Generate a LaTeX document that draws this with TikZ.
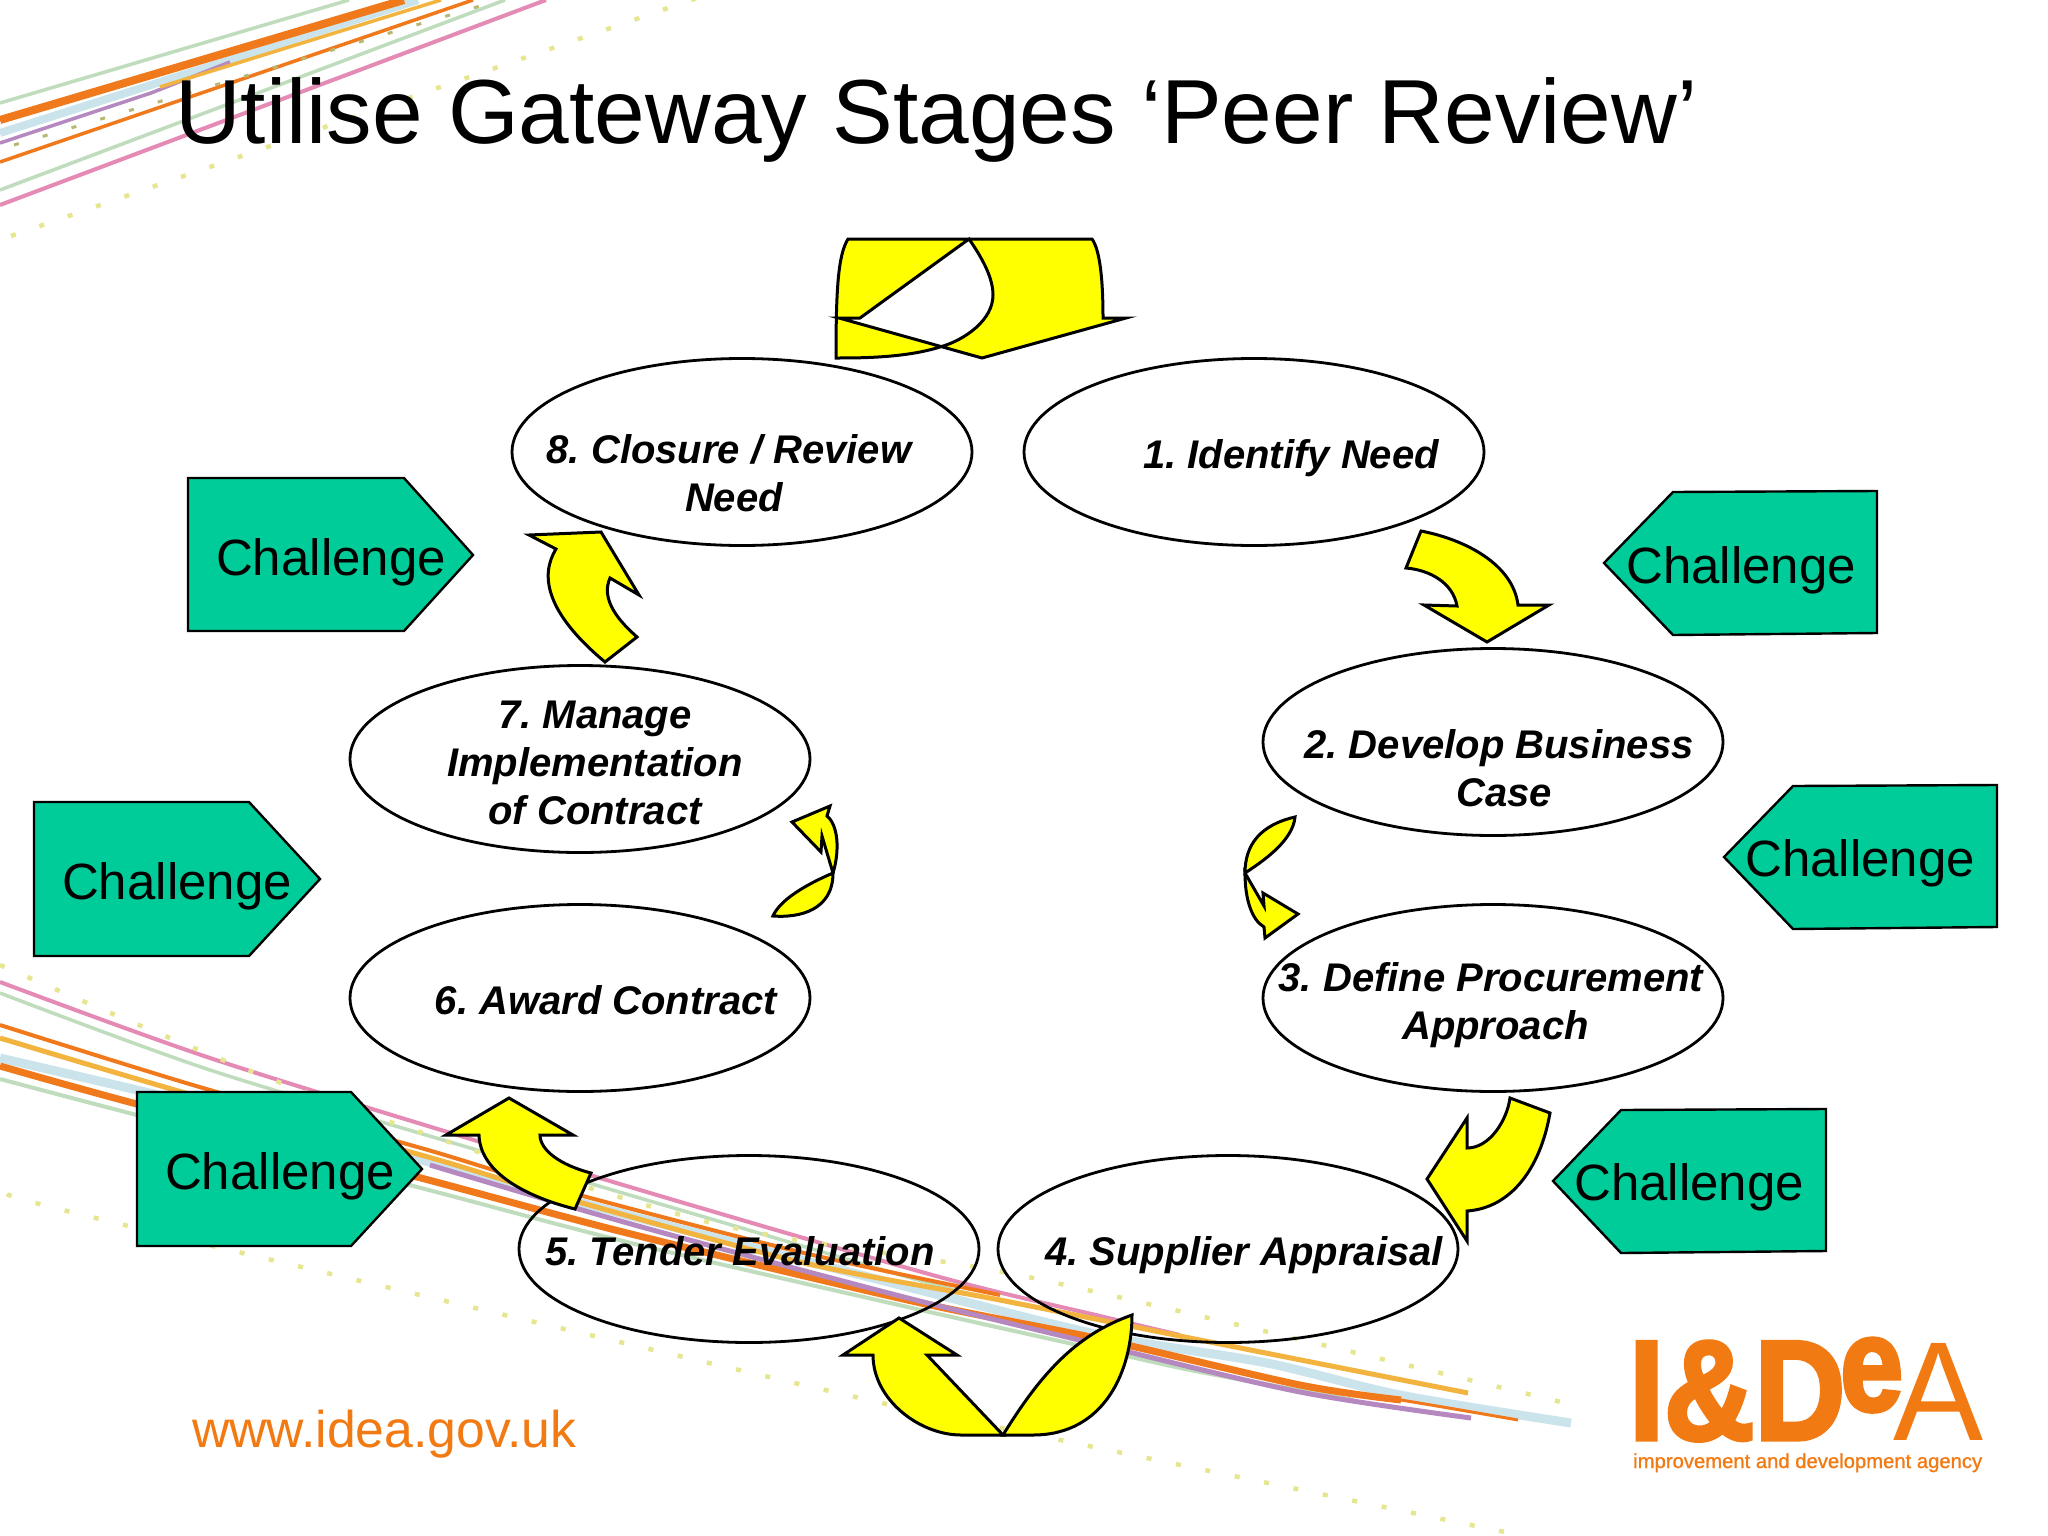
\documentclass[tikz,border=0pt]{standalone}
\usepackage{fontspec}
\setmainfont{Liberation Sans}
\newfontface\logofont{Liberation Sans Bold}[FakeBold=3]
\newfontface\capfont{Liberation Sans}[FakeBold=1]
\usetikzlibrary{shapes.geometric}
\definecolor{chal}{HTML}{00CC99}
\definecolor{arrowyellow}{HTML}{FFFF00}
\definecolor{idea}{HTML}{F27A12}
\definecolor{rpink}{HTML}{E48AB4}
\definecolor{rgreen}{HTML}{BFDCBC}
\definecolor{rorange}{HTML}{F0791B}
\definecolor{rgold}{HTML}{F2B33F}
\definecolor{rblue}{HTML}{CBE4EC}
\definecolor{rpurple}{HTML}{B589C0}
\definecolor{rdot}{HTML}{E6E690}
\tikzset{
  stage/.style={draw=black,line width=2.8pt,ellipse,minimum width=460pt,minimum height=187pt,inner sep=0pt},
  lbl/.style={font=\fontsize{40}{48}\selectfont\bfseries\itshape,align=center,inner sep=0pt},
  chtext/.style={font=\fontsize{51}{51}\selectfont,inner sep=0pt},
  chbox/.style={draw=black,fill=chal,line width=2.4pt,line join=miter},
  arrowshape/.style={draw=black,fill=arrowyellow,line width=3pt,line join=miter,miter limit=10},
  rib/.style={smooth,tension=0.5,line cap=butt},
  dots/.style={draw=rdot,line width=4.5pt,dash pattern=on 5pt off 25pt}
}
\begin{document}
\frenchspacing
\begin{tikzpicture}[x=1pt,y=-1pt]
\useasboundingbox (0,0) rectangle (2048,1536);
\fill[white] (0,0) rectangle (2048,1536);
% upper ribbons
\draw[rgreen,line width=3.5pt] (0,103) -- (349,0);
\draw[rblue,line width=8pt] (0,133) -- (418,0);
\draw[rpurple,line width=3.5pt] (0,143) -- (151,93) -- (230,62);
\draw[rgold,line width=3.5pt] (160,87) -- (441,0);
\draw[rorange,line width=8pt] (0,120) -- (404,0);
\draw[rorange,line width=3.5pt] (0,162) -- (473,0);
\draw[rgreen,line width=3.5pt] (0,190) -- (505,0);
\draw[rpink,line width=4pt] (0,205) -- (546,0);
\draw[dots] (11,236) -- (720,-10);
\draw[dots,line width=3pt,draw=rdot!80!black] (14,145) -- (480,6);
% lower ribbons
\draw[rgreen,line width=3.5pt] plot[rib] coordinates {(0,993) (210,1070) (477,1150) (701,1216) (947,1288) (1050,1310)};
\draw[rpink,line width=4pt] plot[rib] coordinates {(0,982) (210,1058) (477,1141) (701,1208) (947,1279) (1100,1316) (1180,1335)};
\draw[rblue,line width=9pt] plot[rib] coordinates {(0,1058) (200,1105) (421,1160) (631,1216) (900,1285) (1100,1335) (1267,1363) (1400,1395) (1571,1423)};
\draw[rgreen,line width=4pt] plot[rib] coordinates {(0,1079) (133,1114) (421,1188) (631,1243) (912,1308) (1100,1350) (1200,1372) (1354,1400)};
\draw[rorange,line width=7pt] plot[rib] coordinates {(0,1066) (133,1103) (421,1178) (631,1234) (912,1301) (1100,1339) (1300,1385) (1401,1400)};
\draw[rorange,line width=3pt] plot[rib] coordinates {(1300,1385) (1401,1400) (1518,1420)};
\draw[rpurple,line width=5pt] plot[rib] coordinates {(430,1165) (631,1224) (900,1296) (1100,1345) (1300,1392) (1471,1418)};
\draw[rorange,line width=4pt] plot[rib] coordinates {(0,1025) (203,1088) (421,1148) (561,1190) (800,1252) (1000,1295)};
\draw[rgold,line width=5pt] plot[rib] coordinates {(0,1038) (203,1098) (421,1155) (561,1197) (800,1262) (1000,1300) (1200,1340) (1468,1393)};
\draw[dots] plot[rib] coordinates {(0,965) (300,1090) (700,1220) (1033,1278) (1561,1402)};
\draw[dots] plot[rib] coordinates {(7,1194) (116,1223) (838,1393) (1060,1440) (1505,1532)};
% title
\node[anchor=base west,inner sep=0pt,font=\fontsize{91}{91}\selectfont] (title) at (175,143) {Utilise Gateway Stages ‘Peer Review’};
% stages
\node[stage] (s8) at (742,452) {};
\node[stage] (s1) at (1254,452) {};
\node[stage] (s2) at (1493,742) {};
\node[stage] (s7) at (580,759) {};
\node[stage] (s3) at (1493,998) {};
\node[stage] (s6) at (580,998) {};
\node[stage] (s5) at (749,1249) {};
\node[stage] (s4) at (1228,1249) {};
\node[lbl] (t8) at (729,473) {8. Closure / Review\\\hspace*{10pt}Need};
\node[lbl] (t1) at (1291,458) {1. Identify Need};
\node[lbl] (t2) at (1499,768) {2. Develop Business\\\hspace*{10pt}Case};
\node[lbl] (t7) at (595,763) {7. Manage\\Implementation\\of Contract};
\node[lbl] (t3) at (1491,1005) {3. Define Procurement\\\hspace*{9pt}Approach};
\node[lbl] (t6) at (606,1000) {6. Award Contract};
\node[lbl] (t5) at (740,1251) {5. Tender Evaluation};
\node[lbl] (t4) at (1244,1255) {4. Supplier Appraisal};
% challenge boxes
\draw[chbox] (188,478) -- (404,478) -- (473,555) -- (404,631) -- (188,631) -- cycle;
\node[chtext] (c1) at (331,562) {Challenge};
\draw[chbox] (1604,563) -- (1673,492) -- (1877,491) -- (1877,633) -- (1673,635) -- cycle;
\node[chtext] (c2) at (1741,570) {Challenge};
\draw[chbox] (1724,857) -- (1793,786) -- (1997,785) -- (1997,927) -- (1793,929) -- cycle;
\node[chtext] (c3) at (1860,863) {Challenge};
\draw[chbox] (34,802) -- (249,802) -- (320,879) -- (249,956) -- (34,956) -- cycle;
\node[chtext] (c4) at (177,886) {Challenge};
\draw[chbox] (137,1092) -- (351,1092) -- (422,1169) -- (351,1246) -- (137,1246) -- cycle;
\node[chtext] (c5) at (280,1176) {Challenge};
\draw[chbox] (1553,1181) -- (1621,1110) -- (1826,1109) -- (1826,1251) -- (1621,1253) -- cycle;
\node[chtext] (c6) at (1689,1187) {Challenge};
% yellow arrows
\draw[arrowshape,even odd rule] (836,358) .. controls (836,290) and (838,255) .. (848,239) -- (1092,239)
  .. controls (1100,250) and (1103,280) .. (1103,318) -- (1126,318) -- (982,358) -- (839,318) -- (860,318) -- (969,239)
  .. controls (985,262) and (993,280) .. (993,295) .. controls (993,320) and (965,340) .. (940,347)
  .. controls (905,358) and (860,358) .. (836,358) -- cycle;
\draw[arrowshape] (1421,531) .. controls (1467,540) and (1513,565) .. (1518,605) -- (1549,605) -- (1487,642) -- (1424,605) -- (1457,606)
  .. controls (1453,583) and (1430,570) .. (1406,568) -- cycle;
\draw[arrowshape] (1295,817) .. controls (1260,825) and (1245,845) .. (1245,873) .. controls (1265,860) and (1293,840) .. (1295,817) -- cycle;
\draw[arrowshape] (1245,873) .. controls (1245,900) and (1252,920) .. (1264,927) -- (1265,938) -- (1298,914) -- (1263,893) -- (1264,906) -- cycle;
\draw[arrowshape] (1550,1113) .. controls (1540,1170) and (1510,1208) .. (1467,1211) -- (1467,1241) -- (1427,1179) -- (1467,1118) -- (1467,1148)
  .. controls (1490,1148) and (1507,1120) .. (1510,1098) -- cycle;
\draw[arrowshape] (1003,1435) .. controls (1040,1375) and (1075,1335) .. (1132,1315) .. controls (1132,1370) and (1105,1435) .. (1033,1435) -- cycle;
\draw[arrowshape] (899,1318) -- (957,1355) -- (927,1355) -- (1003,1435) -- (961,1435) .. controls (920,1435) and (873,1400) .. (873,1355) -- (843,1355) -- cycle;
\draw[arrowshape] (509,1098) -- (573,1135) -- (540,1135) .. controls (540,1150) and (560,1165) .. (591,1173) -- (575,1209) .. controls (520,1195) and (480,1170) .. (479,1135) -- (446,1135) -- cycle;
\draw[arrowshape] (833,873) .. controls (805,885) and (780,900) .. (773,916) .. controls (800,918) and (833,910) .. (833,873) -- cycle;
\draw[arrowshape] (833,873) -- (822,836) -- (821,852) -- (792,822) -- (830,806) -- (827,816) .. controls (838,825) and (840,850) .. (833,873) -- cycle;
\draw[arrowshape] (605,662) -- (637,637) .. controls (620,622) and (600,600) .. (610,578) -- (639,595) -- (601,532) -- (529,535) -- (556,549)
  .. controls (540,575) and (545,612) .. (605,662) -- cycle;
% footer
\node[anchor=base west,inner sep=0pt,text=idea,font=\fontsize{51.7}{52}\selectfont] (url) at (192,1447) {www.idea.gov.uk};
\node[anchor=south west,inner sep=0pt,text=idea] (l1) at (1629,1441) {\resizebox{216pt}{98pt}{\logofont I\&D}};
\node[anchor=south west,inner sep=0pt,text=idea] (l2) at (1840,1412) {\resizebox{63pt}{72pt}{\logofont e}};
\node[anchor=south west,inner sep=0pt,text=idea] (l3) at (1893,1441) {\resizebox{90pt}{97pt}{A}};
\node[anchor=base west,inner sep=0pt,text=idea] (l4) at (1633,1468) {\resizebox{349pt}{!}{\capfont\fontsize{22}{22}\selectfont improvement and development agency}};
\end{tikzpicture}
\end{document}
